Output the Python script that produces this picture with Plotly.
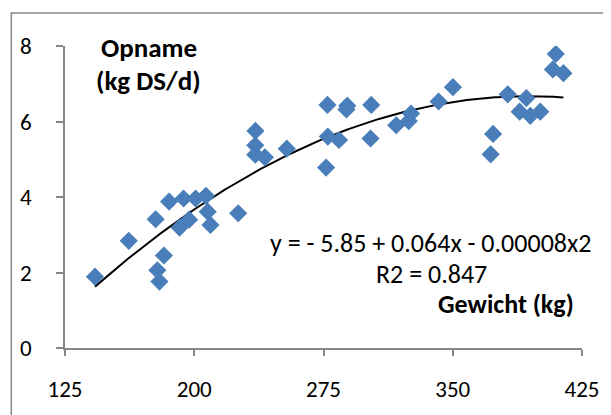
import numpy as np
import plotly.graph_objects as go

# Data
gewicht = [142.4, 162.0, 177.6, 178.6, 179.8, 182.4, 185.4, 191.5, 193.8, 197.0,
           200.8, 206.8, 207.8, 209.4, 225.5, 235.5, 235.4, 235.4, 241.0, 253.7,
           277.3, 276.5, 277.5, 284.0, 288.8, 288.3, 302.7, 302.3, 317.2, 324.5,
           325.8, 341.8, 350.1, 372.0, 373.4, 381.9, 388.8, 392.7, 395.0, 400.8,
           409.8, 408.1, 414.2]
opname = [1.89, 2.84, 3.41, 2.06, 1.76, 2.45, 3.88, 3.19, 3.96, 3.40,
          3.96, 4.03, 3.61, 3.26, 3.57, 5.75, 5.37, 5.12, 5.05, 5.28,
          6.44, 4.78, 5.60, 5.51, 6.42, 6.32, 6.44, 5.55, 5.90, 6.01,
          6.21, 6.53, 6.91, 5.13, 5.67, 6.72, 6.26, 6.62, 6.15, 6.26,
          7.79, 7.38, 7.28]

x_ticks = [125, 200, 275, 350, 425]
y_ticks = [0, 2, 4, 6, 8]

# Quadratic trendline (least squares fit on the data, as the spreadsheet does)
coef = np.polyfit(gewicht, opname, 2)
xt = np.linspace(min(gewicht), max(gewicht), 200)
yt = np.polyval(coef, xt)

FONT = "Calibri, Carlito, Lato, sans-serif"
GRAY = "#868686"

# plot area in page pixels (the page body adds an 8 px offset)
OFF = 8
L, R, T, B = 62 - OFF, 582 - OFF, 46 - OFF, 348 - OFF
W, H = 611, 415
PW, PH = R - L, B - T

def px(xp):
    return (xp - OFF - L) / PW

def py(yp):
    return (B - (yp - OFF)) / PH

fig = go.Figure()
fig.add_trace(go.Scatter(x=xt, y=yt, mode="lines",
                         line=dict(color="black", width=2), hoverinfo="skip"))
fig.add_trace(go.Scatter(x=gewicht, y=opname, mode="markers",
                         marker=dict(symbol="diamond", size=14, color="#4a7ebb",
                                     line=dict(width=0))))

fig.update_layout(
    width=W, height=H,
    margin=dict(l=L, r=W - R, t=T, b=H - B),
    paper_bgcolor="white", plot_bgcolor="white",
    showlegend=False,
    font=dict(family=FONT, size=23, color="black"),
    xaxis=dict(range=[125, 425], tickvals=x_ticks, showgrid=False, zeroline=False,
               showline=True, linecolor=GRAY, linewidth=1.5,
               ticks="outside", ticklen=6, tickcolor=GRAY, tickwidth=1.5,
               ticklabelstandoff=14, tickfont=dict(size=23)),
    yaxis=dict(range=[0, 8], tickvals=y_ticks, showgrid=False, zeroline=False,
               showline=True, linecolor=GRAY, linewidth=1.5,
               ticks="outside", ticklen=7, tickcolor=GRAY, tickwidth=1.5,
               ticklabelstandoff=20, tickfont=dict(size=23)),
    shapes=[dict(type="rect", xref="paper", yref="paper",
                 x0=px(8), x1=px(640), y0=py(440), y1=py(13),
                 line=dict(color=GRAY, width=1.5), fillcolor="rgba(0,0,0,0)",
                 layer="below")],
    annotations=[
        dict(xref="paper", yref="paper", x=px(146), y=py(47),
             text="<b>Opname</b>", showarrow=False, font=dict(size=27),
             xanchor="center", yanchor="middle"),
        dict(xref="paper", yref="paper", x=px(146), y=py(80),
             text="<b>(kg DS/d)</b>", showarrow=False, font=dict(size=27),
             xanchor="center", yanchor="middle"),
        dict(xref="paper", yref="paper", x=px(430), y=py(243),
             text="y = - 5.85 + 0.064x - 0.00008x2", showarrow=False,
             font=dict(size=26), xanchor="center", yanchor="middle"),
        dict(xref="paper", yref="paper", x=px(431), y=py(274),
             text="R2 = 0.847", showarrow=False,
             font=dict(size=26), xanchor="center", yanchor="middle"),
        dict(xref="paper", yref="paper", x=px(506), y=py(304),
             text="<b>Gewicht (kg)</b>", showarrow=False,
             font=dict(size=26), xanchor="center", yanchor="middle"),
    ],
)

fig.write_html("out.html")
